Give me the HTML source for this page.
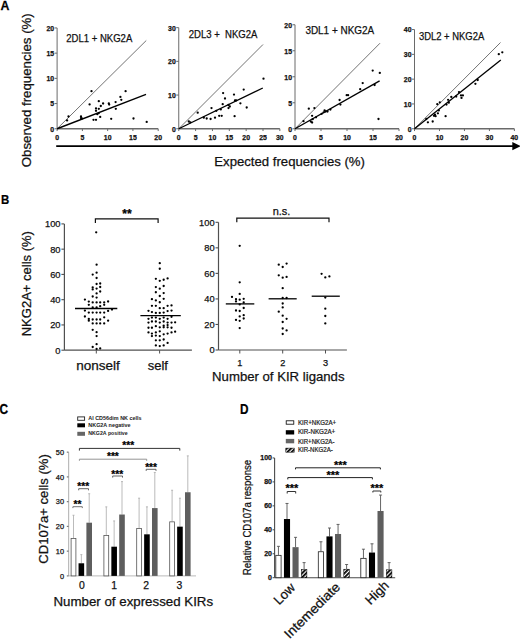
<!DOCTYPE html>
<html><head><meta charset="utf-8"><style>
html,body{margin:0;padding:0;background:#fff;}
svg{display:block;font-family:"Liberation Sans", sans-serif;}
text{stroke:#111;stroke-width:0.25px;paint-order:stroke;}
</style></head><body>
<svg width="520" height="639" viewBox="0 0 520 639">
<rect width="520" height="639" fill="#fff"/>
<text x="0.00" y="0.00" font-size="13.0" text-anchor="start" font-weight="bold" fill="#000" transform="translate(0.60,9.80) scale(0.95,1)" >A</text>
<line x1="57.10" y1="128.75" x2="158.20" y2="128.75" stroke="#6a6a6a" stroke-width="1.3" />
<line x1="57.10" y1="128.75" x2="57.10" y2="27.95" stroke="#6a6a6a" stroke-width="1" />
<line x1="57.10" y1="128.75" x2="57.10" y2="131.05" stroke="#6a6a6a" stroke-width="1" />
<text x="57.10" y="139.50" font-size="6.9" text-anchor="middle" font-weight="bold" fill="#111" >0</text>
<line x1="82.38" y1="128.75" x2="82.38" y2="131.05" stroke="#6a6a6a" stroke-width="1" />
<text x="82.38" y="139.50" font-size="6.9" text-anchor="middle" font-weight="bold" fill="#111" >5</text>
<line x1="107.65" y1="128.75" x2="107.65" y2="131.05" stroke="#6a6a6a" stroke-width="1" />
<text x="107.65" y="139.50" font-size="6.9" text-anchor="middle" font-weight="bold" fill="#111" >10</text>
<line x1="132.92" y1="128.75" x2="132.92" y2="131.05" stroke="#6a6a6a" stroke-width="1" />
<text x="132.92" y="139.50" font-size="6.9" text-anchor="middle" font-weight="bold" fill="#111" >15</text>
<line x1="158.20" y1="128.75" x2="158.20" y2="131.05" stroke="#6a6a6a" stroke-width="1" />
<text x="158.20" y="139.50" font-size="6.9" text-anchor="middle" font-weight="bold" fill="#111" >20</text>
<line x1="54.60" y1="128.75" x2="57.10" y2="128.75" stroke="#6a6a6a" stroke-width="1" />
<text x="54.10" y="131.65" font-size="6.9" text-anchor="end" font-weight="bold" fill="#111" >0</text>
<line x1="54.60" y1="103.55" x2="57.10" y2="103.55" stroke="#6a6a6a" stroke-width="1" />
<text x="54.10" y="106.45" font-size="6.9" text-anchor="end" font-weight="bold" fill="#111" >5</text>
<line x1="54.60" y1="78.35" x2="57.10" y2="78.35" stroke="#6a6a6a" stroke-width="1" />
<text x="54.10" y="81.25" font-size="6.9" text-anchor="end" font-weight="bold" fill="#111" >10</text>
<line x1="54.60" y1="53.15" x2="57.10" y2="53.15" stroke="#6a6a6a" stroke-width="1" />
<text x="54.10" y="56.05" font-size="6.9" text-anchor="end" font-weight="bold" fill="#111" >15</text>
<line x1="54.60" y1="27.95" x2="57.10" y2="27.95" stroke="#6a6a6a" stroke-width="1" />
<text x="54.10" y="30.85" font-size="6.9" text-anchor="end" font-weight="bold" fill="#111" >20</text>
<line x1="57.10" y1="128.75" x2="146.25" y2="40.50" stroke="#5a5a5a" stroke-width="0.85" />
<line x1="57.10" y1="128.75" x2="146.00" y2="94.30" stroke="#000" stroke-width="1.35" />
<circle cx="91.50" cy="91.20" r="1.15" fill="#000"/>
<circle cx="125.60" cy="91.20" r="1.15" fill="#000"/>
<circle cx="120.40" cy="96.90" r="1.15" fill="#000"/>
<circle cx="121.30" cy="99.80" r="1.15" fill="#000"/>
<circle cx="98.80" cy="101.20" r="1.15" fill="#000"/>
<circle cx="89.60" cy="104.40" r="1.15" fill="#000"/>
<circle cx="103.10" cy="103.50" r="1.15" fill="#000"/>
<circle cx="108.80" cy="103.50" r="1.15" fill="#000"/>
<circle cx="109.20" cy="104.60" r="1.15" fill="#000"/>
<circle cx="115.60" cy="102.10" r="1.15" fill="#000"/>
<circle cx="100.80" cy="106.00" r="1.15" fill="#000"/>
<circle cx="96.00" cy="108.50" r="1.15" fill="#000"/>
<circle cx="98.80" cy="108.80" r="1.15" fill="#000"/>
<circle cx="115.80" cy="108.80" r="1.15" fill="#000"/>
<circle cx="96.00" cy="110.80" r="1.15" fill="#000"/>
<circle cx="97.30" cy="114.20" r="1.15" fill="#000"/>
<circle cx="98.80" cy="113.10" r="1.15" fill="#000"/>
<circle cx="100.20" cy="116.90" r="1.15" fill="#000"/>
<circle cx="68.50" cy="116.50" r="1.15" fill="#000"/>
<circle cx="81.00" cy="116.50" r="1.15" fill="#000"/>
<circle cx="81.00" cy="118.10" r="1.15" fill="#000"/>
<circle cx="81.90" cy="118.50" r="1.15" fill="#000"/>
<circle cx="67.10" cy="120.40" r="1.15" fill="#000"/>
<circle cx="93.50" cy="119.80" r="1.15" fill="#000"/>
<circle cx="96.00" cy="119.80" r="1.15" fill="#000"/>
<circle cx="111.20" cy="118.80" r="1.15" fill="#000"/>
<circle cx="133.50" cy="118.50" r="1.15" fill="#000"/>
<circle cx="146.70" cy="121.90" r="1.15" fill="#000"/>
<text x="66.20" y="41.60" font-size="10.4" text-anchor="start" font-weight="normal" fill="#111" textLength="66.1" lengthAdjust="spacingAndGlyphs" >2DL1 + NKG2A</text>
<line x1="178.75" y1="128.75" x2="279.85" y2="128.75" stroke="#6a6a6a" stroke-width="1.3" />
<line x1="178.75" y1="128.75" x2="178.75" y2="27.65" stroke="#6a6a6a" stroke-width="1" />
<line x1="178.75" y1="128.75" x2="178.75" y2="131.05" stroke="#6a6a6a" stroke-width="1" />
<text x="178.75" y="139.50" font-size="6.9" text-anchor="middle" font-weight="bold" fill="#111" >0</text>
<line x1="195.60" y1="128.75" x2="195.60" y2="131.05" stroke="#6a6a6a" stroke-width="1" />
<text x="195.60" y="139.50" font-size="6.9" text-anchor="middle" font-weight="bold" fill="#111" >5</text>
<line x1="212.45" y1="128.75" x2="212.45" y2="131.05" stroke="#6a6a6a" stroke-width="1" />
<text x="212.45" y="139.50" font-size="6.9" text-anchor="middle" font-weight="bold" fill="#111" >10</text>
<line x1="229.30" y1="128.75" x2="229.30" y2="131.05" stroke="#6a6a6a" stroke-width="1" />
<text x="229.30" y="139.50" font-size="6.9" text-anchor="middle" font-weight="bold" fill="#111" >15</text>
<line x1="246.15" y1="128.75" x2="246.15" y2="131.05" stroke="#6a6a6a" stroke-width="1" />
<text x="246.15" y="139.50" font-size="6.9" text-anchor="middle" font-weight="bold" fill="#111" >20</text>
<line x1="263.00" y1="128.75" x2="263.00" y2="131.05" stroke="#6a6a6a" stroke-width="1" />
<text x="263.00" y="139.50" font-size="6.9" text-anchor="middle" font-weight="bold" fill="#111" >25</text>
<line x1="279.85" y1="128.75" x2="279.85" y2="131.05" stroke="#6a6a6a" stroke-width="1" />
<text x="279.85" y="139.50" font-size="6.9" text-anchor="middle" font-weight="bold" fill="#111" >30</text>
<line x1="176.25" y1="128.75" x2="178.75" y2="128.75" stroke="#6a6a6a" stroke-width="1" />
<text x="175.75" y="131.65" font-size="6.9" text-anchor="end" font-weight="bold" fill="#111" >0</text>
<line x1="176.25" y1="95.05" x2="178.75" y2="95.05" stroke="#6a6a6a" stroke-width="1" />
<text x="175.75" y="97.95" font-size="6.9" text-anchor="end" font-weight="bold" fill="#111" >10</text>
<line x1="176.25" y1="61.35" x2="178.75" y2="61.35" stroke="#6a6a6a" stroke-width="1" />
<text x="175.75" y="64.25" font-size="6.9" text-anchor="end" font-weight="bold" fill="#111" >20</text>
<line x1="176.25" y1="27.65" x2="178.75" y2="27.65" stroke="#6a6a6a" stroke-width="1" />
<text x="175.75" y="30.55" font-size="6.9" text-anchor="end" font-weight="bold" fill="#111" >30</text>
<line x1="178.75" y1="128.75" x2="263.00" y2="44.50" stroke="#5a5a5a" stroke-width="0.85" />
<line x1="178.75" y1="128.75" x2="262.80" y2="88.00" stroke="#000" stroke-width="1.35" />
<circle cx="263.50" cy="78.70" r="1.15" fill="#000"/>
<circle cx="243.70" cy="89.60" r="1.15" fill="#000"/>
<circle cx="223.10" cy="93.10" r="1.15" fill="#000"/>
<circle cx="234.00" cy="94.60" r="1.15" fill="#000"/>
<circle cx="225.00" cy="98.50" r="1.15" fill="#000"/>
<circle cx="235.00" cy="100.40" r="1.15" fill="#000"/>
<circle cx="236.20" cy="100.40" r="1.15" fill="#000"/>
<circle cx="240.40" cy="103.30" r="1.15" fill="#000"/>
<circle cx="222.70" cy="104.20" r="1.15" fill="#000"/>
<circle cx="228.50" cy="105.00" r="1.15" fill="#000"/>
<circle cx="229.80" cy="106.50" r="1.15" fill="#000"/>
<circle cx="228.50" cy="108.10" r="1.15" fill="#000"/>
<circle cx="246.70" cy="107.50" r="1.15" fill="#000"/>
<circle cx="211.50" cy="108.10" r="1.15" fill="#000"/>
<circle cx="220.80" cy="109.40" r="1.15" fill="#000"/>
<circle cx="216.30" cy="110.80" r="1.15" fill="#000"/>
<circle cx="197.70" cy="112.70" r="1.15" fill="#000"/>
<circle cx="219.20" cy="115.80" r="1.15" fill="#000"/>
<circle cx="221.70" cy="115.80" r="1.15" fill="#000"/>
<circle cx="234.60" cy="116.20" r="1.15" fill="#000"/>
<circle cx="203.80" cy="117.70" r="1.15" fill="#000"/>
<circle cx="206.70" cy="118.50" r="1.15" fill="#000"/>
<circle cx="210.60" cy="119.00" r="1.15" fill="#000"/>
<circle cx="215.00" cy="117.70" r="1.15" fill="#000"/>
<circle cx="188.80" cy="121.50" r="1.15" fill="#000"/>
<circle cx="190.40" cy="122.30" r="1.15" fill="#000"/>
<text x="188.70" y="38.00" font-size="10.4" text-anchor="start" font-weight="normal" fill="#111" textLength="68.8" lengthAdjust="spacingAndGlyphs" >2DL3 +&#160; NKG2A</text>
<line x1="295.00" y1="128.75" x2="399.00" y2="128.75" stroke="#6a6a6a" stroke-width="1.3" />
<line x1="295.00" y1="128.75" x2="295.00" y2="24.75" stroke="#6a6a6a" stroke-width="1" />
<line x1="295.00" y1="128.75" x2="295.00" y2="131.05" stroke="#6a6a6a" stroke-width="1" />
<text x="295.00" y="139.50" font-size="6.9" text-anchor="middle" font-weight="bold" fill="#111" >0</text>
<line x1="321.00" y1="128.75" x2="321.00" y2="131.05" stroke="#6a6a6a" stroke-width="1" />
<text x="321.00" y="139.50" font-size="6.9" text-anchor="middle" font-weight="bold" fill="#111" >5</text>
<line x1="347.00" y1="128.75" x2="347.00" y2="131.05" stroke="#6a6a6a" stroke-width="1" />
<text x="347.00" y="139.50" font-size="6.9" text-anchor="middle" font-weight="bold" fill="#111" >10</text>
<line x1="373.00" y1="128.75" x2="373.00" y2="131.05" stroke="#6a6a6a" stroke-width="1" />
<text x="373.00" y="139.50" font-size="6.9" text-anchor="middle" font-weight="bold" fill="#111" >15</text>
<line x1="399.00" y1="128.75" x2="399.00" y2="131.05" stroke="#6a6a6a" stroke-width="1" />
<text x="399.00" y="139.50" font-size="6.9" text-anchor="middle" font-weight="bold" fill="#111" >20</text>
<line x1="292.50" y1="128.75" x2="295.00" y2="128.75" stroke="#6a6a6a" stroke-width="1" />
<text x="292.00" y="131.65" font-size="6.9" text-anchor="end" font-weight="bold" fill="#111" >0</text>
<line x1="292.50" y1="102.75" x2="295.00" y2="102.75" stroke="#6a6a6a" stroke-width="1" />
<text x="292.00" y="105.65" font-size="6.9" text-anchor="end" font-weight="bold" fill="#111" >5</text>
<line x1="292.50" y1="76.75" x2="295.00" y2="76.75" stroke="#6a6a6a" stroke-width="1" />
<text x="292.00" y="79.65" font-size="6.9" text-anchor="end" font-weight="bold" fill="#111" >10</text>
<line x1="292.50" y1="50.75" x2="295.00" y2="50.75" stroke="#6a6a6a" stroke-width="1" />
<text x="292.00" y="53.65" font-size="6.9" text-anchor="end" font-weight="bold" fill="#111" >15</text>
<line x1="292.50" y1="24.75" x2="295.00" y2="24.75" stroke="#6a6a6a" stroke-width="1" />
<text x="292.00" y="27.65" font-size="6.9" text-anchor="end" font-weight="bold" fill="#111" >20</text>
<line x1="295.00" y1="128.75" x2="380.00" y2="43.20" stroke="#5a5a5a" stroke-width="0.85" />
<line x1="295.00" y1="128.75" x2="379.60" y2="80.80" stroke="#000" stroke-width="1.35" />
<circle cx="372.70" cy="70.60" r="1.15" fill="#000"/>
<circle cx="379.80" cy="72.90" r="1.15" fill="#000"/>
<circle cx="362.70" cy="83.10" r="1.15" fill="#000"/>
<circle cx="374.60" cy="85.00" r="1.15" fill="#000"/>
<circle cx="360.20" cy="89.20" r="1.15" fill="#000"/>
<circle cx="346.70" cy="95.20" r="1.15" fill="#000"/>
<circle cx="348.10" cy="95.20" r="1.15" fill="#000"/>
<circle cx="339.60" cy="100.00" r="1.15" fill="#000"/>
<circle cx="340.40" cy="104.60" r="1.15" fill="#000"/>
<circle cx="308.80" cy="108.70" r="1.15" fill="#000"/>
<circle cx="314.40" cy="108.10" r="1.15" fill="#000"/>
<circle cx="324.60" cy="110.40" r="1.15" fill="#000"/>
<circle cx="325.60" cy="111.50" r="1.15" fill="#000"/>
<circle cx="323.70" cy="112.30" r="1.15" fill="#000"/>
<circle cx="327.50" cy="111.50" r="1.15" fill="#000"/>
<circle cx="321.70" cy="113.80" r="1.15" fill="#000"/>
<circle cx="330.40" cy="109.60" r="1.15" fill="#000"/>
<circle cx="312.10" cy="115.80" r="1.15" fill="#000"/>
<circle cx="316.00" cy="117.30" r="1.15" fill="#000"/>
<circle cx="312.70" cy="119.20" r="1.15" fill="#000"/>
<circle cx="310.80" cy="121.50" r="1.15" fill="#000"/>
<circle cx="312.10" cy="122.50" r="1.15" fill="#000"/>
<circle cx="303.50" cy="121.20" r="1.15" fill="#000"/>
<circle cx="378.50" cy="119.00" r="1.15" fill="#000"/>
<text x="305.40" y="34.30" font-size="10.4" text-anchor="start" font-weight="normal" fill="#111" textLength="68.8" lengthAdjust="spacingAndGlyphs" >3DL1 + NKG2A</text>
<line x1="414.50" y1="128.75" x2="514.38" y2="128.75" stroke="#6a6a6a" stroke-width="1.3" />
<line x1="414.50" y1="128.75" x2="414.50" y2="29.55" stroke="#6a6a6a" stroke-width="1" />
<line x1="414.50" y1="128.75" x2="414.50" y2="131.05" stroke="#6a6a6a" stroke-width="1" />
<text x="414.50" y="139.50" font-size="6.9" text-anchor="middle" font-weight="bold" fill="#111" >0</text>
<line x1="439.47" y1="128.75" x2="439.47" y2="131.05" stroke="#6a6a6a" stroke-width="1" />
<text x="439.47" y="139.50" font-size="6.9" text-anchor="middle" font-weight="bold" fill="#111" >10</text>
<line x1="464.44" y1="128.75" x2="464.44" y2="131.05" stroke="#6a6a6a" stroke-width="1" />
<text x="464.44" y="139.50" font-size="6.9" text-anchor="middle" font-weight="bold" fill="#111" >20</text>
<line x1="489.41" y1="128.75" x2="489.41" y2="131.05" stroke="#6a6a6a" stroke-width="1" />
<text x="489.41" y="139.50" font-size="6.9" text-anchor="middle" font-weight="bold" fill="#111" >30</text>
<line x1="514.38" y1="128.75" x2="514.38" y2="131.05" stroke="#6a6a6a" stroke-width="1" />
<text x="514.38" y="139.50" font-size="6.9" text-anchor="middle" font-weight="bold" fill="#111" >40</text>
<line x1="412.00" y1="128.75" x2="414.50" y2="128.75" stroke="#6a6a6a" stroke-width="1" />
<text x="411.50" y="131.65" font-size="6.9" text-anchor="end" font-weight="bold" fill="#111" >0</text>
<line x1="412.00" y1="103.95" x2="414.50" y2="103.95" stroke="#6a6a6a" stroke-width="1" />
<text x="411.50" y="106.85" font-size="6.9" text-anchor="end" font-weight="bold" fill="#111" >10</text>
<line x1="412.00" y1="79.15" x2="414.50" y2="79.15" stroke="#6a6a6a" stroke-width="1" />
<text x="411.50" y="82.05" font-size="6.9" text-anchor="end" font-weight="bold" fill="#111" >20</text>
<line x1="412.00" y1="54.35" x2="414.50" y2="54.35" stroke="#6a6a6a" stroke-width="1" />
<text x="411.50" y="57.25" font-size="6.9" text-anchor="end" font-weight="bold" fill="#111" >30</text>
<line x1="412.00" y1="29.55" x2="414.50" y2="29.55" stroke="#6a6a6a" stroke-width="1" />
<text x="411.50" y="32.45" font-size="6.9" text-anchor="end" font-weight="bold" fill="#111" >40</text>
<line x1="414.50" y1="128.75" x2="500.50" y2="42.50" stroke="#5a5a5a" stroke-width="0.85" />
<line x1="414.50" y1="128.75" x2="500.80" y2="60.00" stroke="#000" stroke-width="1.35" />
<circle cx="498.80" cy="54.20" r="1.15" fill="#000"/>
<circle cx="502.30" cy="52.30" r="1.15" fill="#000"/>
<circle cx="477.70" cy="80.00" r="1.15" fill="#000"/>
<circle cx="475.40" cy="83.80" r="1.15" fill="#000"/>
<circle cx="459.00" cy="92.10" r="1.15" fill="#000"/>
<circle cx="461.00" cy="95.40" r="1.15" fill="#000"/>
<circle cx="462.90" cy="95.40" r="1.15" fill="#000"/>
<circle cx="456.20" cy="96.50" r="1.15" fill="#000"/>
<circle cx="461.50" cy="97.90" r="1.15" fill="#000"/>
<circle cx="451.30" cy="96.90" r="1.15" fill="#000"/>
<circle cx="448.10" cy="99.80" r="1.15" fill="#000"/>
<circle cx="448.80" cy="102.70" r="1.15" fill="#000"/>
<circle cx="446.50" cy="104.60" r="1.15" fill="#000"/>
<circle cx="439.80" cy="102.30" r="1.15" fill="#000"/>
<circle cx="437.30" cy="104.20" r="1.15" fill="#000"/>
<circle cx="438.80" cy="110.40" r="1.15" fill="#000"/>
<circle cx="437.90" cy="113.30" r="1.15" fill="#000"/>
<circle cx="435.00" cy="114.60" r="1.15" fill="#000"/>
<circle cx="434.00" cy="115.80" r="1.15" fill="#000"/>
<circle cx="435.60" cy="116.20" r="1.15" fill="#000"/>
<circle cx="445.60" cy="116.20" r="1.15" fill="#000"/>
<circle cx="426.30" cy="119.00" r="1.15" fill="#000"/>
<circle cx="427.90" cy="122.30" r="1.15" fill="#000"/>
<circle cx="432.70" cy="121.50" r="1.15" fill="#000"/>
<text x="418.90" y="39.80" font-size="10.4" text-anchor="start" font-weight="normal" fill="#111" textLength="65.4" lengthAdjust="spacingAndGlyphs" >3DL2 + NKG2A</text>
<line x1="56.20" y1="146.10" x2="513.00" y2="146.10" stroke="#000" stroke-width="1.6" />
<polygon points="512.3,142.1 521,146.1 512.3,150.3" fill="#000"/>
<text x="214.30" y="166.30" font-size="13.0" text-anchor="start" font-weight="normal" fill="#111" textLength="150.6" lengthAdjust="spacingAndGlyphs" >Expected frequencies (%)</text>
<text x="0.00" y="0.00" font-size="13.6" text-anchor="middle" font-weight="normal" fill="#111" transform="translate(31.20,90.20) rotate(-90)" textLength="154.0" lengthAdjust="spacingAndGlyphs" >Observed frequencies (%)</text>
<text x="0.00" y="0.00" font-size="13.0" text-anchor="start" font-weight="bold" fill="#000" transform="translate(0.90,203.70) scale(0.88,1)" >B</text>
<line x1="64.40" y1="350.20" x2="191.90" y2="350.20" stroke="#505050" stroke-width="1.2" />
<line x1="64.40" y1="350.20" x2="64.40" y2="223.90" stroke="#505050" stroke-width="1.2" />
<line x1="61.40" y1="350.20" x2="64.40" y2="350.20" stroke="#505050" stroke-width="1.1" />
<text x="60.50" y="353.60" font-size="9.3" text-anchor="end" font-weight="normal" fill="#111" >0</text>
<line x1="61.40" y1="324.94" x2="64.40" y2="324.94" stroke="#505050" stroke-width="1.1" />
<text x="60.50" y="328.34" font-size="9.3" text-anchor="end" font-weight="normal" fill="#111" >20</text>
<line x1="61.40" y1="299.68" x2="64.40" y2="299.68" stroke="#505050" stroke-width="1.1" />
<text x="60.50" y="303.08" font-size="9.3" text-anchor="end" font-weight="normal" fill="#111" >40</text>
<line x1="61.40" y1="274.42" x2="64.40" y2="274.42" stroke="#505050" stroke-width="1.1" />
<text x="60.50" y="277.82" font-size="9.3" text-anchor="end" font-weight="normal" fill="#111" >60</text>
<line x1="61.40" y1="249.16" x2="64.40" y2="249.16" stroke="#505050" stroke-width="1.1" />
<text x="60.50" y="252.56" font-size="9.3" text-anchor="end" font-weight="normal" fill="#111" >80</text>
<line x1="61.40" y1="223.90" x2="64.40" y2="223.90" stroke="#505050" stroke-width="1.1" />
<text x="60.50" y="227.30" font-size="9.3" text-anchor="end" font-weight="normal" fill="#111" >100</text>
<line x1="96.30" y1="350.20" x2="96.30" y2="353.50" stroke="#505050" stroke-width="1" />
<line x1="159.60" y1="350.20" x2="159.60" y2="353.50" stroke="#505050" stroke-width="1" />
<text x="97.95" y="369.70" font-size="13.0" text-anchor="middle" font-weight="normal" fill="#111" textLength="43.6" lengthAdjust="spacingAndGlyphs" >nonself</text>
<text x="157.80" y="369.70" font-size="13.0" text-anchor="middle" font-weight="normal" fill="#111" textLength="20.2" lengthAdjust="spacingAndGlyphs" >self</text>
<text x="0.00" y="0.00" font-size="13.6" text-anchor="middle" font-weight="normal" fill="#111" transform="translate(31.20,283.70) rotate(-90)" textLength="105.2" lengthAdjust="spacingAndGlyphs" >NKG2A+ cells (%)</text>
<polyline points="95.40,222.90 95.40,218.80 158.10,218.80 158.10,222.90" stroke="#111" stroke-width="1.2" fill="none"/>
<text x="127.00" y="218.20" font-size="12" text-anchor="middle" font-weight="bold" fill="#000" textLength="9.4" lengthAdjust="spacingAndGlyphs" >**</text>
<circle cx="96.60" cy="264.70" r="1.15" fill="#000"/>
<circle cx="92.70" cy="274.60" r="1.15" fill="#000"/>
<circle cx="96.60" cy="272.70" r="1.15" fill="#000"/>
<circle cx="96.60" cy="278.00" r="1.15" fill="#000"/>
<circle cx="96.60" cy="284.00" r="1.15" fill="#000"/>
<circle cx="100.20" cy="283.50" r="1.15" fill="#000"/>
<circle cx="92.70" cy="287.40" r="1.15" fill="#000"/>
<circle cx="96.60" cy="288.60" r="1.15" fill="#000"/>
<circle cx="100.20" cy="287.00" r="1.15" fill="#000"/>
<circle cx="92.70" cy="289.40" r="1.15" fill="#000"/>
<circle cx="100.20" cy="291.50" r="1.15" fill="#000"/>
<circle cx="96.60" cy="293.40" r="1.15" fill="#000"/>
<circle cx="92.70" cy="296.50" r="1.15" fill="#000"/>
<circle cx="96.60" cy="297.60" r="1.15" fill="#000"/>
<circle cx="84.90" cy="299.60" r="1.15" fill="#000"/>
<circle cx="88.80" cy="301.60" r="1.15" fill="#000"/>
<circle cx="92.70" cy="302.40" r="1.15" fill="#000"/>
<circle cx="96.60" cy="302.40" r="1.15" fill="#000"/>
<circle cx="100.20" cy="302.40" r="1.15" fill="#000"/>
<circle cx="104.20" cy="302.40" r="1.15" fill="#000"/>
<circle cx="108.10" cy="301.50" r="1.15" fill="#000"/>
<circle cx="88.80" cy="304.80" r="1.15" fill="#000"/>
<circle cx="104.20" cy="304.80" r="1.15" fill="#000"/>
<circle cx="100.20" cy="306.20" r="1.15" fill="#000"/>
<circle cx="92.70" cy="307.40" r="1.15" fill="#000"/>
<circle cx="96.60" cy="307.40" r="1.15" fill="#000"/>
<circle cx="84.90" cy="310.60" r="1.15" fill="#000"/>
<circle cx="88.80" cy="312.60" r="1.15" fill="#000"/>
<circle cx="92.70" cy="312.60" r="1.15" fill="#000"/>
<circle cx="96.60" cy="312.60" r="1.15" fill="#000"/>
<circle cx="100.20" cy="312.60" r="1.15" fill="#000"/>
<circle cx="104.20" cy="312.60" r="1.15" fill="#000"/>
<circle cx="108.10" cy="310.90" r="1.15" fill="#000"/>
<circle cx="112.00" cy="309.50" r="1.15" fill="#000"/>
<circle cx="84.90" cy="316.50" r="1.15" fill="#000"/>
<circle cx="88.80" cy="318.90" r="1.15" fill="#000"/>
<circle cx="88.80" cy="320.70" r="1.15" fill="#000"/>
<circle cx="92.70" cy="319.50" r="1.15" fill="#000"/>
<circle cx="96.60" cy="319.50" r="1.15" fill="#000"/>
<circle cx="100.20" cy="319.50" r="1.15" fill="#000"/>
<circle cx="104.20" cy="317.30" r="1.15" fill="#000"/>
<circle cx="92.70" cy="323.40" r="1.15" fill="#000"/>
<circle cx="96.60" cy="323.40" r="1.15" fill="#000"/>
<circle cx="100.20" cy="323.40" r="1.15" fill="#000"/>
<circle cx="104.20" cy="323.40" r="1.15" fill="#000"/>
<circle cx="108.10" cy="320.70" r="1.15" fill="#000"/>
<circle cx="92.70" cy="329.80" r="1.15" fill="#000"/>
<circle cx="96.60" cy="332.20" r="1.15" fill="#000"/>
<circle cx="96.60" cy="336.10" r="1.15" fill="#000"/>
<circle cx="96.60" cy="344.20" r="1.15" fill="#000"/>
<circle cx="92.70" cy="347.00" r="1.15" fill="#000"/>
<circle cx="100.20" cy="348.40" r="1.15" fill="#000"/>
<circle cx="96.60" cy="348.90" r="1.15" fill="#000"/>
<circle cx="96.20" cy="232.30" r="1.15" fill="#000"/>
<circle cx="159.77" cy="263.14" r="1.15" fill="#000"/>
<circle cx="159.77" cy="268.77" r="1.15" fill="#000"/>
<circle cx="155.85" cy="278.79" r="1.15" fill="#000"/>
<circle cx="159.77" cy="280.82" r="1.15" fill="#000"/>
<circle cx="163.68" cy="279.73" r="1.15" fill="#000"/>
<circle cx="167.60" cy="278.47" r="1.15" fill="#000"/>
<circle cx="155.85" cy="287.08" r="1.15" fill="#000"/>
<circle cx="159.77" cy="288.65" r="1.15" fill="#000"/>
<circle cx="163.68" cy="285.99" r="1.15" fill="#000"/>
<circle cx="155.85" cy="292.25" r="1.15" fill="#000"/>
<circle cx="163.68" cy="293.03" r="1.15" fill="#000"/>
<circle cx="159.77" cy="296.00" r="1.15" fill="#000"/>
<circle cx="151.93" cy="299.13" r="1.15" fill="#000"/>
<circle cx="155.85" cy="300.38" r="1.15" fill="#000"/>
<circle cx="163.68" cy="298.82" r="1.15" fill="#000"/>
<circle cx="159.77" cy="302.26" r="1.15" fill="#000"/>
<circle cx="151.93" cy="305.86" r="1.15" fill="#000"/>
<circle cx="155.85" cy="305.86" r="1.15" fill="#000"/>
<circle cx="159.77" cy="308.21" r="1.15" fill="#000"/>
<circle cx="163.68" cy="308.21" r="1.15" fill="#000"/>
<circle cx="167.60" cy="305.86" r="1.15" fill="#000"/>
<circle cx="171.52" cy="305.39" r="1.15" fill="#000"/>
<circle cx="148.49" cy="310.87" r="1.15" fill="#000"/>
<circle cx="151.93" cy="312.12" r="1.15" fill="#000"/>
<circle cx="155.85" cy="312.90" r="1.15" fill="#000"/>
<circle cx="159.77" cy="312.90" r="1.15" fill="#000"/>
<circle cx="163.68" cy="312.59" r="1.15" fill="#000"/>
<circle cx="167.60" cy="311.03" r="1.15" fill="#000"/>
<circle cx="171.52" cy="310.56" r="1.15" fill="#000"/>
<circle cx="148.49" cy="318.85" r="1.15" fill="#000"/>
<circle cx="151.93" cy="317.60" r="1.15" fill="#000"/>
<circle cx="155.85" cy="317.60" r="1.15" fill="#000"/>
<circle cx="159.77" cy="318.85" r="1.15" fill="#000"/>
<circle cx="163.68" cy="317.60" r="1.15" fill="#000"/>
<circle cx="167.60" cy="318.85" r="1.15" fill="#000"/>
<circle cx="171.52" cy="316.82" r="1.15" fill="#000"/>
<circle cx="148.49" cy="322.61" r="1.15" fill="#000"/>
<circle cx="151.93" cy="321.51" r="1.15" fill="#000"/>
<circle cx="155.85" cy="321.51" r="1.15" fill="#000"/>
<circle cx="159.77" cy="322.61" r="1.15" fill="#000"/>
<circle cx="163.68" cy="321.51" r="1.15" fill="#000"/>
<circle cx="167.60" cy="322.61" r="1.15" fill="#000"/>
<circle cx="171.52" cy="322.61" r="1.15" fill="#000"/>
<circle cx="175.12" cy="322.29" r="1.15" fill="#000"/>
<circle cx="148.49" cy="327.77" r="1.15" fill="#000"/>
<circle cx="151.93" cy="327.77" r="1.15" fill="#000"/>
<circle cx="155.85" cy="326.21" r="1.15" fill="#000"/>
<circle cx="159.77" cy="327.30" r="1.15" fill="#000"/>
<circle cx="163.68" cy="327.30" r="1.15" fill="#000"/>
<circle cx="167.60" cy="327.30" r="1.15" fill="#000"/>
<circle cx="171.52" cy="327.77" r="1.15" fill="#000"/>
<circle cx="163.68" cy="325.74" r="1.15" fill="#000"/>
<circle cx="167.60" cy="325.11" r="1.15" fill="#000"/>
<circle cx="148.49" cy="332.46" r="1.15" fill="#000"/>
<circle cx="151.93" cy="333.56" r="1.15" fill="#000"/>
<circle cx="155.85" cy="332.46" r="1.15" fill="#000"/>
<circle cx="159.77" cy="331.37" r="1.15" fill="#000"/>
<circle cx="163.68" cy="334.34" r="1.15" fill="#000"/>
<circle cx="167.60" cy="333.56" r="1.15" fill="#000"/>
<circle cx="171.52" cy="332.46" r="1.15" fill="#000"/>
<circle cx="175.12" cy="331.68" r="1.15" fill="#000"/>
<circle cx="151.93" cy="336.06" r="1.15" fill="#000"/>
<circle cx="155.85" cy="335.59" r="1.15" fill="#000"/>
<circle cx="159.77" cy="336.06" r="1.15" fill="#000"/>
<circle cx="155.85" cy="340.29" r="1.15" fill="#000"/>
<circle cx="159.77" cy="340.29" r="1.15" fill="#000"/>
<circle cx="163.68" cy="339.51" r="1.15" fill="#000"/>
<circle cx="167.60" cy="342.95" r="1.15" fill="#000"/>
<circle cx="155.85" cy="345.45" r="1.15" fill="#000"/>
<circle cx="159.77" cy="346.08" r="1.15" fill="#000"/>
<circle cx="163.68" cy="345.45" r="1.15" fill="#000"/>
<line x1="75.00" y1="308.50" x2="117.30" y2="308.50" stroke="#000" stroke-width="1.3" />
<line x1="140.40" y1="315.70" x2="180.80" y2="315.70" stroke="#000" stroke-width="1.3" />
<line x1="218.50" y1="350.00" x2="346.90" y2="350.00" stroke="#505050" stroke-width="1.2" />
<line x1="218.50" y1="350.00" x2="218.50" y2="222.30" stroke="#505050" stroke-width="1.2" />
<line x1="215.50" y1="350.00" x2="218.50" y2="350.00" stroke="#505050" stroke-width="1.1" />
<text x="214.60" y="353.40" font-size="9.3" text-anchor="end" font-weight="normal" fill="#111" >0</text>
<line x1="215.50" y1="324.46" x2="218.50" y2="324.46" stroke="#505050" stroke-width="1.1" />
<text x="214.60" y="327.86" font-size="9.3" text-anchor="end" font-weight="normal" fill="#111" >20</text>
<line x1="215.50" y1="298.92" x2="218.50" y2="298.92" stroke="#505050" stroke-width="1.1" />
<text x="214.60" y="302.32" font-size="9.3" text-anchor="end" font-weight="normal" fill="#111" >40</text>
<line x1="215.50" y1="273.38" x2="218.50" y2="273.38" stroke="#505050" stroke-width="1.1" />
<text x="214.60" y="276.78" font-size="9.3" text-anchor="end" font-weight="normal" fill="#111" >60</text>
<line x1="215.50" y1="247.84" x2="218.50" y2="247.84" stroke="#505050" stroke-width="1.1" />
<text x="214.60" y="251.24" font-size="9.3" text-anchor="end" font-weight="normal" fill="#111" >80</text>
<line x1="215.50" y1="222.30" x2="218.50" y2="222.30" stroke="#505050" stroke-width="1.1" />
<text x="214.60" y="225.70" font-size="9.3" text-anchor="end" font-weight="normal" fill="#111" >100</text>
<line x1="239.80" y1="350.00" x2="239.80" y2="353.50" stroke="#505050" stroke-width="1" />
<text x="239.80" y="366.40" font-size="9.2" text-anchor="middle" font-weight="normal" fill="#111" >1</text>
<line x1="282.70" y1="350.00" x2="282.70" y2="353.50" stroke="#505050" stroke-width="1" />
<text x="282.70" y="366.40" font-size="9.2" text-anchor="middle" font-weight="normal" fill="#111" >2</text>
<line x1="325.50" y1="350.00" x2="325.50" y2="353.50" stroke="#505050" stroke-width="1" />
<text x="325.50" y="366.40" font-size="9.2" text-anchor="middle" font-weight="normal" fill="#111" >3</text>
<text x="212.10" y="380.60" font-size="13.1" text-anchor="start" font-weight="normal" fill="#111" textLength="132.4" lengthAdjust="spacingAndGlyphs" >Number of KIR ligands</text>
<polyline points="236.80,222.30 236.80,218.20 329.00,218.20 329.00,222.30" stroke="#111" stroke-width="1.2" fill="none"/>
<text x="281.55" y="215.40" font-size="11" text-anchor="middle" font-weight="normal" fill="#111" textLength="17.7" lengthAdjust="spacingAndGlyphs" >n.s.</text>
<circle cx="239.70" cy="245.80" r="1.15" fill="#000"/>
<circle cx="239.70" cy="282.30" r="1.15" fill="#000"/>
<circle cx="239.70" cy="293.90" r="1.15" fill="#000"/>
<circle cx="232.00" cy="296.90" r="1.15" fill="#000"/>
<circle cx="236.00" cy="299.20" r="1.15" fill="#000"/>
<circle cx="239.70" cy="299.70" r="1.15" fill="#000"/>
<circle cx="243.70" cy="298.80" r="1.15" fill="#000"/>
<circle cx="236.00" cy="301.40" r="1.15" fill="#000"/>
<circle cx="243.70" cy="302.50" r="1.15" fill="#000"/>
<circle cx="239.70" cy="304.40" r="1.15" fill="#000"/>
<circle cx="243.70" cy="308.00" r="1.15" fill="#000"/>
<circle cx="236.00" cy="310.50" r="1.15" fill="#000"/>
<circle cx="239.70" cy="311.00" r="1.15" fill="#000"/>
<circle cx="239.70" cy="316.40" r="1.15" fill="#000"/>
<circle cx="243.70" cy="315.20" r="1.15" fill="#000"/>
<circle cx="243.70" cy="318.50" r="1.15" fill="#000"/>
<circle cx="236.00" cy="319.90" r="1.15" fill="#000"/>
<circle cx="239.70" cy="320.80" r="1.15" fill="#000"/>
<circle cx="239.70" cy="328.10" r="1.15" fill="#000"/>
<circle cx="278.75" cy="264.70" r="1.15" fill="#000"/>
<circle cx="286.60" cy="263.60" r="1.15" fill="#000"/>
<circle cx="282.70" cy="267.00" r="1.15" fill="#000"/>
<circle cx="278.75" cy="275.30" r="1.15" fill="#000"/>
<circle cx="282.70" cy="277.70" r="1.15" fill="#000"/>
<circle cx="286.60" cy="276.90" r="1.15" fill="#000"/>
<circle cx="282.70" cy="288.20" r="1.15" fill="#000"/>
<circle cx="282.70" cy="298.00" r="1.15" fill="#000"/>
<circle cx="286.60" cy="298.00" r="1.15" fill="#000"/>
<circle cx="282.70" cy="303.50" r="1.15" fill="#000"/>
<circle cx="282.70" cy="307.40" r="1.15" fill="#000"/>
<circle cx="278.75" cy="311.70" r="1.15" fill="#000"/>
<circle cx="282.70" cy="315.70" r="1.15" fill="#000"/>
<circle cx="286.60" cy="318.80" r="1.15" fill="#000"/>
<circle cx="282.70" cy="322.00" r="1.15" fill="#000"/>
<circle cx="282.70" cy="328.50" r="1.15" fill="#000"/>
<circle cx="286.60" cy="330.40" r="1.15" fill="#000"/>
<circle cx="282.70" cy="334.00" r="1.15" fill="#000"/>
<circle cx="321.60" cy="273.80" r="1.15" fill="#000"/>
<circle cx="325.30" cy="277.40" r="1.15" fill="#000"/>
<circle cx="329.40" cy="276.40" r="1.15" fill="#000"/>
<circle cx="325.30" cy="297.60" r="1.15" fill="#000"/>
<circle cx="325.30" cy="308.70" r="1.15" fill="#000"/>
<circle cx="325.30" cy="316.00" r="1.15" fill="#000"/>
<circle cx="325.30" cy="323.40" r="1.15" fill="#000"/>
<line x1="225.80" y1="303.90" x2="254.30" y2="303.90" stroke="#000" stroke-width="1.3" />
<line x1="268.60" y1="298.80" x2="296.70" y2="298.80" stroke="#000" stroke-width="1.3" />
<line x1="311.70" y1="296.20" x2="339.80" y2="296.20" stroke="#000" stroke-width="1.3" />
<text x="0.00" y="0.00" font-size="13.8" text-anchor="start" font-weight="bold" fill="#000" transform="translate(-0.60,414.20) scale(0.86,1)" >C</text>
<rect x="77.70" y="416.90" width="6.90" height="3.40" fill="#fff" stroke="#222" stroke-width="0.9"/>
<rect x="77.30" y="423.30" width="7.70" height="4.00" fill="#000" stroke="none" stroke-width="1"/>
<rect x="77.30" y="431.80" width="7.70" height="4.00" fill="#666" stroke="none" stroke-width="1"/>
<text x="88.30" y="420.20" font-size="5.4" text-anchor="start" font-weight="bold" fill="#1a1a1a" textLength="53.2" lengthAdjust="spacingAndGlyphs" style="stroke-width:0">Al CD56dim NK cells</text>
<text x="88.30" y="427.20" font-size="5.4" text-anchor="start" font-weight="bold" fill="#1a1a1a" textLength="42.3" lengthAdjust="spacingAndGlyphs" style="stroke-width:0">NKG2A negative</text>
<text x="88.30" y="435.20" font-size="5.4" text-anchor="start" font-weight="bold" fill="#1a1a1a" textLength="39.4" lengthAdjust="spacingAndGlyphs" style="stroke-width:0">NKG2A positive</text>
<line x1="68.60" y1="575.90" x2="196.00" y2="575.90" stroke="#bbb" stroke-width="1" />
<line x1="68.60" y1="575.90" x2="68.60" y2="452.15" stroke="#bbb" stroke-width="1.2" />
<line x1="66.80" y1="575.90" x2="68.60" y2="575.90" stroke="#777" stroke-width="1.2" />
<text x="64.10" y="578.50" font-size="7.4" text-anchor="end" font-weight="normal" fill="#111" >0</text>
<line x1="66.80" y1="551.15" x2="68.60" y2="551.15" stroke="#777" stroke-width="1.2" />
<text x="64.10" y="553.75" font-size="7.4" text-anchor="end" font-weight="normal" fill="#111" >10</text>
<line x1="66.80" y1="526.40" x2="68.60" y2="526.40" stroke="#777" stroke-width="1.2" />
<text x="64.10" y="529.00" font-size="7.4" text-anchor="end" font-weight="normal" fill="#111" >20</text>
<line x1="66.80" y1="501.65" x2="68.60" y2="501.65" stroke="#777" stroke-width="1.2" />
<text x="64.10" y="504.25" font-size="7.4" text-anchor="end" font-weight="normal" fill="#111" >30</text>
<line x1="66.80" y1="476.90" x2="68.60" y2="476.90" stroke="#777" stroke-width="1.2" />
<text x="64.10" y="479.50" font-size="7.4" text-anchor="end" font-weight="normal" fill="#111" >40</text>
<line x1="66.80" y1="452.15" x2="68.60" y2="452.15" stroke="#777" stroke-width="1.2" />
<text x="64.10" y="454.75" font-size="7.4" text-anchor="end" font-weight="normal" fill="#111" >50</text>
<line x1="73.50" y1="538.03" x2="73.50" y2="515.26" stroke="#aaa" stroke-width="0.8" />
<line x1="72.50" y1="515.26" x2="74.50" y2="515.26" stroke="#aaa" stroke-width="0.8" />
<line x1="81.35" y1="563.28" x2="81.35" y2="554.62" stroke="#aaa" stroke-width="0.8" />
<line x1="80.35" y1="554.62" x2="82.35" y2="554.62" stroke="#aaa" stroke-width="0.8" />
<line x1="89.20" y1="522.69" x2="89.20" y2="493.73" stroke="#aaa" stroke-width="0.8" />
<line x1="88.20" y1="493.73" x2="90.20" y2="493.73" stroke="#aaa" stroke-width="0.8" />
<rect x="71.10" y="538.43" width="4.80" height="37.47" fill="#fff" stroke="#555" stroke-width="0.8"/>
<rect x="78.55" y="563.28" width="5.60" height="12.62" fill="#000" stroke="none" stroke-width="1"/>
<rect x="86.40" y="522.69" width="5.60" height="53.21" fill="#5e5e5e" stroke="none" stroke-width="1"/>
<line x1="106.30" y1="535.06" x2="106.30" y2="506.85" stroke="#aaa" stroke-width="0.8" />
<line x1="105.30" y1="506.85" x2="107.30" y2="506.85" stroke="#aaa" stroke-width="0.8" />
<line x1="114.15" y1="546.69" x2="114.15" y2="520.95" stroke="#aaa" stroke-width="0.8" />
<line x1="113.15" y1="520.95" x2="115.15" y2="520.95" stroke="#aaa" stroke-width="0.8" />
<line x1="122.00" y1="514.52" x2="122.00" y2="481.60" stroke="#aaa" stroke-width="0.8" />
<line x1="121.00" y1="481.60" x2="123.00" y2="481.60" stroke="#aaa" stroke-width="0.8" />
<rect x="103.90" y="535.46" width="4.80" height="40.44" fill="#fff" stroke="#555" stroke-width="0.8"/>
<rect x="111.35" y="546.69" width="5.60" height="29.21" fill="#000" stroke="none" stroke-width="1"/>
<rect x="119.20" y="514.52" width="5.60" height="61.38" fill="#5e5e5e" stroke="none" stroke-width="1"/>
<line x1="139.10" y1="528.13" x2="139.10" y2="498.18" stroke="#aaa" stroke-width="0.8" />
<line x1="138.10" y1="498.18" x2="140.10" y2="498.18" stroke="#aaa" stroke-width="0.8" />
<line x1="146.95" y1="534.32" x2="146.95" y2="506.85" stroke="#aaa" stroke-width="0.8" />
<line x1="145.95" y1="506.85" x2="147.95" y2="506.85" stroke="#aaa" stroke-width="0.8" />
<line x1="154.80" y1="508.08" x2="154.80" y2="472.44" stroke="#aaa" stroke-width="0.8" />
<line x1="153.80" y1="472.44" x2="155.80" y2="472.44" stroke="#aaa" stroke-width="0.8" />
<rect x="136.70" y="528.53" width="4.80" height="47.37" fill="#fff" stroke="#555" stroke-width="0.8"/>
<rect x="144.15" y="534.32" width="5.60" height="41.58" fill="#000" stroke="none" stroke-width="1"/>
<rect x="152.00" y="508.08" width="5.60" height="67.81" fill="#5e5e5e" stroke="none" stroke-width="1"/>
<line x1="172.10" y1="521.45" x2="172.10" y2="490.26" stroke="#aaa" stroke-width="0.8" />
<line x1="171.10" y1="490.26" x2="173.10" y2="490.26" stroke="#aaa" stroke-width="0.8" />
<line x1="179.95" y1="526.65" x2="179.95" y2="498.18" stroke="#aaa" stroke-width="0.8" />
<line x1="178.95" y1="498.18" x2="180.95" y2="498.18" stroke="#aaa" stroke-width="0.8" />
<line x1="187.80" y1="492.25" x2="187.80" y2="455.86" stroke="#aaa" stroke-width="0.8" />
<line x1="186.80" y1="455.86" x2="188.80" y2="455.86" stroke="#aaa" stroke-width="0.8" />
<rect x="169.70" y="521.85" width="4.80" height="54.05" fill="#fff" stroke="#555" stroke-width="0.8"/>
<rect x="177.15" y="526.65" width="5.60" height="49.25" fill="#000" stroke="none" stroke-width="1"/>
<rect x="185.00" y="492.25" width="5.60" height="83.66" fill="#5e5e5e" stroke="none" stroke-width="1"/>
<text x="82.00" y="588.80" font-size="10.4" text-anchor="middle" font-weight="normal" fill="#111" >0</text>
<text x="114.10" y="588.80" font-size="10.4" text-anchor="middle" font-weight="normal" fill="#111" >1</text>
<text x="146.20" y="588.80" font-size="10.4" text-anchor="middle" font-weight="normal" fill="#111" >2</text>
<text x="179.30" y="588.80" font-size="10.4" text-anchor="middle" font-weight="normal" fill="#111" >3</text>
<text x="53.50" y="605.80" font-size="13.1" text-anchor="start" font-weight="normal" fill="#111" textLength="159.6" lengthAdjust="spacingAndGlyphs" >Number of expressed KIRs</text>
<text x="0.00" y="0.00" font-size="13.7" text-anchor="middle" font-weight="normal" fill="#111" transform="translate(47.60,509.00) rotate(-90)" textLength="109.5" lengthAdjust="spacingAndGlyphs" >CD107a+ cells (%)</text>
<polyline points="79.40,450.60 79.40,448.40 179.80,448.40 179.80,450.60" stroke="#333" stroke-width="1.0" fill="none"/>
<polyline points="79.40,460.80 79.40,459.20 146.70,459.20 146.70,460.80" stroke="#888" stroke-width="0.9" fill="none"/>
<polyline points="78.70,490.30 78.70,488.70 88.50,488.70 88.50,490.30" stroke="#555" stroke-width="0.9" fill="none"/>
<polyline points="112.70,477.60 112.70,476.00 122.50,476.00 122.50,477.60" stroke="#555" stroke-width="0.9" fill="none"/>
<polyline points="146.20,470.90 146.20,469.30 156.00,469.30 156.00,470.90" stroke="#555" stroke-width="0.9" fill="none"/>
<polyline points="72.90,508.10 72.90,506.70 82.30,506.70 82.30,508.10" stroke="#666" stroke-width="0.9" fill="none"/>
<text x="128.30" y="449.20" font-size="10.2" text-anchor="middle" font-weight="bold" fill="#000" >***</text>
<text x="112.90" y="460.00" font-size="10.2" text-anchor="middle" font-weight="bold" fill="#000" >***</text>
<text x="83.30" y="489.60" font-size="10.2" text-anchor="middle" font-weight="bold" fill="#000" >***</text>
<text x="117.30" y="477.90" font-size="10.2" text-anchor="middle" font-weight="bold" fill="#000" >***</text>
<text x="151.10" y="471.20" font-size="10.2" text-anchor="middle" font-weight="bold" fill="#000" >***</text>
<text x="77.45" y="507.60" font-size="10.2" text-anchor="middle" font-weight="bold" fill="#000" >**</text>
<text x="0.00" y="0.00" font-size="14.2" text-anchor="start" font-weight="bold" fill="#000" transform="translate(240.00,414.00) scale(0.83,1)" >D</text>
<rect x="286.20" y="420.80" width="7.60" height="3.40" fill="#fff" stroke="#000" stroke-width="0.8"/>
<rect x="285.80" y="430.20" width="8.40" height="4.30" fill="#000" stroke="none" stroke-width="1"/>
<rect x="285.80" y="438.90" width="8.40" height="4.40" fill="#666" stroke="none" stroke-width="1"/>
<defs><pattern id="hatch" patternUnits="userSpaceOnUse" width="3" height="3" patternTransform="rotate(45)"><rect width="3" height="3" fill="#fff"/><rect width="1.8" height="3" fill="#000"/></pattern></defs>
<rect x="285.80" y="448.10" width="8.40" height="4.10" fill="url(#hatch)" stroke="#000" stroke-width="0.5"/>
<text x="297.90" y="425.00" font-size="6.6" text-anchor="start" font-weight="normal" fill="#1a1a1a" textLength="38.3" lengthAdjust="spacingAndGlyphs" style="stroke-width:0.2px">KIR+NKG2A+</text>
<text x="297.90" y="434.40" font-size="6.6" text-anchor="start" font-weight="normal" fill="#1a1a1a" textLength="37.4" lengthAdjust="spacingAndGlyphs" style="stroke-width:0.2px">KIR-NKG2A+</text>
<text x="297.90" y="443.70" font-size="6.6" text-anchor="start" font-weight="normal" fill="#1a1a1a" textLength="36.6" lengthAdjust="spacingAndGlyphs" style="stroke-width:0.2px">KIR+NKG2A-</text>
<text x="297.90" y="452.00" font-size="6.6" text-anchor="start" font-weight="normal" fill="#1a1a1a" textLength="34.9" lengthAdjust="spacingAndGlyphs" style="stroke-width:0.2px">KIR-NKG2A-</text>
<line x1="274.60" y1="577.70" x2="395.20" y2="577.70" stroke="#4a4a4a" stroke-width="1.1" />
<line x1="274.60" y1="577.70" x2="274.60" y2="457.95" stroke="#4a4a4a" stroke-width="1.1" />
<line x1="272.60" y1="577.70" x2="274.60" y2="577.70" stroke="#4a4a4a" stroke-width="1" />
<text x="272.00" y="580.20" font-size="7.0" text-anchor="end" font-weight="bold" fill="#111" >0</text>
<line x1="272.60" y1="553.75" x2="274.60" y2="553.75" stroke="#4a4a4a" stroke-width="1" />
<text x="272.00" y="556.25" font-size="7.0" text-anchor="end" font-weight="bold" fill="#111" >20</text>
<line x1="272.60" y1="529.80" x2="274.60" y2="529.80" stroke="#4a4a4a" stroke-width="1" />
<text x="272.00" y="532.30" font-size="7.0" text-anchor="end" font-weight="bold" fill="#111" >40</text>
<line x1="272.60" y1="505.85" x2="274.60" y2="505.85" stroke="#4a4a4a" stroke-width="1" />
<text x="272.00" y="508.35" font-size="7.0" text-anchor="end" font-weight="bold" fill="#111" >60</text>
<line x1="272.60" y1="481.90" x2="274.60" y2="481.90" stroke="#4a4a4a" stroke-width="1" />
<text x="272.00" y="484.40" font-size="7.0" text-anchor="end" font-weight="bold" fill="#111" >80</text>
<line x1="272.60" y1="457.95" x2="274.60" y2="457.95" stroke="#4a4a4a" stroke-width="1" />
<text x="272.00" y="460.45" font-size="7.0" text-anchor="end" font-weight="bold" fill="#111" >100</text>
<line x1="278.45" y1="554.95" x2="278.45" y2="546.33" stroke="#555" stroke-width="0.9" />
<line x1="276.95" y1="546.33" x2="279.95" y2="546.33" stroke="#555" stroke-width="0.9" />
<rect x="275.80" y="555.35" width="5.30" height="22.35" fill="#fff" stroke="#222" stroke-width="0.8"/>
<line x1="287.00" y1="519.02" x2="287.00" y2="503.46" stroke="#555" stroke-width="0.9" />
<line x1="285.50" y1="503.46" x2="288.50" y2="503.46" stroke="#555" stroke-width="0.9" />
<rect x="283.95" y="519.02" width="6.10" height="58.68" fill="#000" stroke="none" stroke-width="1"/>
<line x1="295.55" y1="547.16" x2="295.55" y2="537.34" stroke="#555" stroke-width="0.9" />
<line x1="294.05" y1="537.34" x2="297.05" y2="537.34" stroke="#555" stroke-width="0.9" />
<rect x="292.50" y="547.16" width="6.10" height="30.54" fill="#5e5e5e" stroke="none" stroke-width="1"/>
<line x1="304.10" y1="569.32" x2="304.10" y2="562.61" stroke="#555" stroke-width="0.9" />
<line x1="302.60" y1="562.61" x2="305.60" y2="562.61" stroke="#555" stroke-width="0.9" />
<rect x="301.30" y="569.57" width="5.60" height="8.13" fill="url(#hatch)" stroke="#000" stroke-width="0.5"/>
<line x1="320.95" y1="551.36" x2="320.95" y2="541.78" stroke="#555" stroke-width="0.9" />
<line x1="319.45" y1="541.78" x2="322.45" y2="541.78" stroke="#555" stroke-width="0.9" />
<rect x="318.30" y="551.75" width="5.30" height="25.95" fill="#fff" stroke="#222" stroke-width="0.8"/>
<line x1="329.50" y1="536.39" x2="329.50" y2="528.00" stroke="#555" stroke-width="0.9" />
<line x1="328.00" y1="528.00" x2="331.00" y2="528.00" stroke="#555" stroke-width="0.9" />
<rect x="326.45" y="536.39" width="6.10" height="41.31" fill="#000" stroke="none" stroke-width="1"/>
<line x1="338.05" y1="533.99" x2="338.05" y2="524.41" stroke="#555" stroke-width="0.9" />
<line x1="336.55" y1="524.41" x2="339.55" y2="524.41" stroke="#555" stroke-width="0.9" />
<rect x="335.00" y="533.99" width="6.10" height="43.71" fill="#5e5e5e" stroke="none" stroke-width="1"/>
<line x1="346.60" y1="568.96" x2="346.60" y2="564.53" stroke="#555" stroke-width="0.9" />
<line x1="345.10" y1="564.53" x2="348.10" y2="564.53" stroke="#555" stroke-width="0.9" />
<rect x="343.80" y="569.21" width="5.60" height="8.49" fill="url(#hatch)" stroke="#000" stroke-width="0.5"/>
<line x1="363.45" y1="557.94" x2="363.45" y2="549.20" stroke="#555" stroke-width="0.9" />
<line x1="361.95" y1="549.20" x2="364.95" y2="549.20" stroke="#555" stroke-width="0.9" />
<rect x="360.80" y="558.34" width="5.30" height="19.36" fill="#fff" stroke="#222" stroke-width="0.8"/>
<line x1="372.00" y1="552.55" x2="372.00" y2="543.81" stroke="#555" stroke-width="0.9" />
<line x1="370.50" y1="543.81" x2="373.50" y2="543.81" stroke="#555" stroke-width="0.9" />
<rect x="368.95" y="552.55" width="6.10" height="25.15" fill="#000" stroke="none" stroke-width="1"/>
<line x1="380.55" y1="511.00" x2="380.55" y2="495.07" stroke="#555" stroke-width="0.9" />
<line x1="379.05" y1="495.07" x2="382.05" y2="495.07" stroke="#555" stroke-width="0.9" />
<rect x="377.50" y="511.00" width="6.10" height="66.70" fill="#5e5e5e" stroke="none" stroke-width="1"/>
<line x1="389.10" y1="569.56" x2="389.10" y2="562.61" stroke="#555" stroke-width="0.9" />
<line x1="387.60" y1="562.61" x2="390.60" y2="562.61" stroke="#555" stroke-width="0.9" />
<rect x="386.30" y="569.81" width="5.60" height="7.89" fill="url(#hatch)" stroke="#000" stroke-width="0.5"/>
<polyline points="295.50,469.40 295.50,467.80 380.40,467.80 380.40,469.40" stroke="#222" stroke-width="1.0" fill="none"/>
<polyline points="287.80,479.40 287.80,477.60 372.40,477.60 372.40,479.40" stroke="#222" stroke-width="1.0" fill="none"/>
<polyline points="287.20,493.50 287.20,491.50 295.70,491.50 295.70,493.50" stroke="#333" stroke-width="1.0" fill="none"/>
<polyline points="372.90,492.50 372.90,491.00 380.80,491.00 380.80,492.50" stroke="#333" stroke-width="1.0" fill="none"/>
<text x="340.30" y="468.80" font-size="11.0" text-anchor="middle" font-weight="bold" fill="#000" >***</text>
<text x="332.80" y="478.70" font-size="11.0" text-anchor="middle" font-weight="bold" fill="#000" >***</text>
<text x="291.80" y="492.40" font-size="11.0" text-anchor="middle" font-weight="bold" fill="#000" >***</text>
<text x="376.80" y="491.80" font-size="11.0" text-anchor="middle" font-weight="bold" fill="#000" >***</text>
<text x="0.00" y="0.00" font-size="10.4" text-anchor="middle" font-weight="normal" fill="#111" transform="translate(250.50,517.50) rotate(-90)" textLength="115.4" lengthAdjust="spacingAndGlyphs" >Relative CD107a response</text>
<text x="0.00" y="0.00" font-size="13.2" text-anchor="start" font-weight="normal" fill="#111" transform="translate(279.00,605.60) rotate(-45)" >Low</text>
<text x="0.00" y="0.00" font-size="13.2" text-anchor="start" font-weight="normal" fill="#111" transform="translate(289.60,639.20) rotate(-45)" textLength="72.5" lengthAdjust="spacingAndGlyphs" >Intemediate</text>
<text x="0.00" y="0.00" font-size="13.2" text-anchor="start" font-weight="normal" fill="#111" transform="translate(370.60,605.60) rotate(-45)" >High</text>
</svg>
</body></html>
